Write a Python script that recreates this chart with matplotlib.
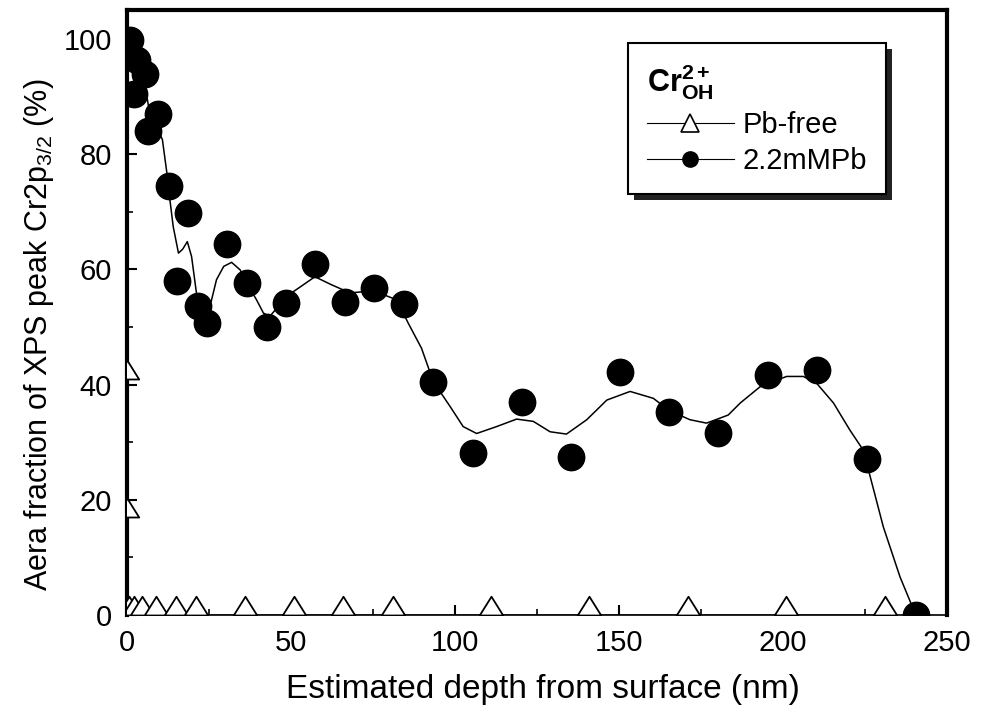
import matplotlib
matplotlib.use('Agg')
import matplotlib.pyplot as plt
from matplotlib.path import Path
from matplotlib.lines import Line2D
from matplotlib.patches import Rectangle
from matplotlib.ticker import MultipleLocator

plt.rcParams['font.family'] = ['Liberation Sans', 'DejaVu Sans']
plt.rcParams['mathtext.fontset'] = 'custom'
plt.rcParams['mathtext.rm'] = 'Liberation Sans'
plt.rcParams['mathtext.it'] = 'Liberation Sans:italic'
plt.rcParams['mathtext.bf'] = 'Liberation Sans:bold'

# Pb-free (open triangles)
pbfree_x = [0, 0, 0.5, 2, 4.5, 9, 15, 21, 36, 51, 66, 81, 111, 141, 171, 201, 231]
pbfree_y = [41, 17, 0, 0, 0, 0, 0, 0, 0, 0, 0, 0, 0, 0, 0, 0, 0]

# 2.2mMPb (filled circles)
pb_x = [1, 3, 5.5, 2, 6.5, 9.5, 12.9, 15.3, 18.7, 21.7, 24.5, 30.4, 36.5, 42.6,
        48.5, 57.3, 66.5, 75.4, 84.5, 93.4, 105.6, 120.5, 135.4, 150.3, 165.3,
        180.3, 195.5, 210.3, 225.5, 240.7]
pb_y = [99.8, 96.4, 93.8, 90.5, 84, 87, 74.5, 58, 69.7, 53.6, 50.7, 64.4, 57.6, 50,
        54.1, 60.9, 54.4, 56.7, 54, 40.5, 28.1, 36.9, 27.5, 42.1, 35.3,
        31.5, 41.7, 42.5, 27, 0]

# smooth guide curve through the 2.2mMPb data
fit_x = [0.5, 2.5, 4.5, 5.5, 6.5, 8.5, 10.8, 12.1, 13.1, 14.1, 15.7, 17.0, 18.4,
         19.7, 21.2, 23.0, 24.5, 25.8, 27.3, 29.5, 31.9, 34.5, 36.5, 39.5, 41.6,
         43.5, 45.6, 50.7, 57.3, 62.4, 68, 72, 78.2, 82.2, 85.8, 89.8, 93.4,
         98.5, 102.5, 106.6, 112.7, 118.8, 123.9, 129, 134, 140.2, 146.3,
         153.4, 160.5, 165.3, 171.6, 176.7, 183.3, 187, 193, 201.1, 206.2,
         210.3, 215.4, 220.4, 224.5, 230.6, 235.7, 240.5]
fit_y = [99, 97, 94.5, 92, 88.5, 85.5, 82.5, 77, 72, 67.4, 62.8, 63.5, 64.8,
         62.2, 55.8, 52.0, 51.5, 54.7, 58.2, 60.5, 61.2, 59.9, 57.6, 54.7, 52.4,
         51.8, 53.2, 56.1, 58.7, 57.3, 55.9, 56.1, 55.6, 54.7, 50.6, 46.3, 40.5,
         36.2, 32.7, 31.5, 32.7, 34, 33.6, 31.8, 31.4, 33.9, 37.3,
         38.8, 37.6, 35.5, 33.9, 33.3, 34.7, 36.8, 39.6, 41.4, 41.4,
         40.2, 36.8, 32.1, 28.6, 15.3, 6.6, 0]

fig = plt.figure(figsize=(9.82, 7.11), dpi=100)
ax = fig.add_axes([0.1293, 0.135, 0.835, 0.851])

tri = Path([(-1, 0), (1, 0), (0, 1.6), (-1, 0)],
           [Path.MOVETO, Path.LINETO, Path.LINETO, Path.CLOSEPOLY])

ax.plot(pbfree_x, pbfree_y, color='black', lw=0.8, marker=tri, ms=27,
        mfc='white', mec='black', mew=1.3, zorder=3)
ax.plot(fit_x, fit_y, color='black', lw=1.1, zorder=2)
ax.plot(pb_x, pb_y, ls='none', marker='o', ms=19, mfc='black', mec='black', zorder=4)

ax.set_xlim(0, 250)
ax.set_ylim(0, 105)
ax.xaxis.set_major_locator(MultipleLocator(50))
ax.xaxis.set_minor_locator(MultipleLocator(25))
ax.yaxis.set_major_locator(MultipleLocator(20))
ax.yaxis.set_minor_locator(MultipleLocator(10))
ax.tick_params(which='both', direction='in', top=False, right=False,
               labelsize=21, pad=10)
ax.tick_params(axis='y', pad=11)
ax.tick_params(which='major', length=7, width=1.5)
ax.tick_params(which='minor', length=4, width=1.2)
for side in ['left', 'top', 'right']:
    ax.spines[side].set_linewidth(3)
ax.spines['bottom'].set_linewidth(1.2)

ax.set_xlabel('Estimated depth from surface (nm)', fontsize=24)
ax.set_ylabel('Aera fraction of XPS peak Cr2p$_{3/2}$ (%)', fontsize=22)
ax.xaxis.set_label_coords(0.507, -0.098)
ax.yaxis.set_label_coords(-0.086, 0.463)

handles = [Line2D([], [], color='black', lw=0.8, marker='^', ms=13,
                  mfc='white', mec='black', mew=1.2),
           Line2D([], [], color='black', lw=0.8, marker='o', ms=11,
                  mfc='black', mec='black')]
leg = ax.legend(handles, ['Pb-free', '2.2mMPb'], loc='upper right',
                bbox_to_anchor=(0.926, 0.945), borderaxespad=0, fontsize=21,
                title=r'Cr$^{\mathbf{2+}}_{\mathbf{OH}}$',
                title_fontproperties={'weight': 'bold', 'size': 22},
                alignment='left', handlelength=3.0, handletextpad=0.3,
                labelspacing=0.3, borderpad=0.65, fancybox=False,
                edgecolor='black', framealpha=1)
leg.get_frame().set_linewidth(1.5)
leg.set_zorder(6)

# drop shadow behind the legend box
fig.canvas.draw()
bb = leg.get_window_extent().transformed(fig.transFigure.inverted())
dx, dy = 6 / fig.bbox.width, 6 / fig.bbox.height
ax.add_patch(Rectangle((bb.x0 + dx, bb.y0 - dy), bb.width, bb.height,
                       transform=fig.transFigure, facecolor='#222222',
                       edgecolor='none', zorder=5, clip_on=False))

fig.savefig('out.png', dpi=100)
